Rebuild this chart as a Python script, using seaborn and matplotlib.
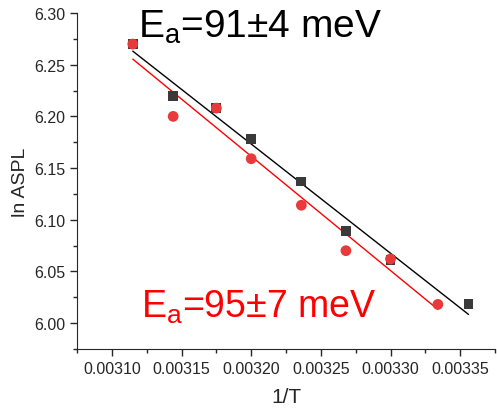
import numpy as np
import pandas as pd
import matplotlib
matplotlib.use("Agg")
import matplotlib.pyplot as plt
from matplotlib.ticker import MultipleLocator, FormatStrFormatter
import seaborn as sns

# datos
x_black = [0.003115, 0.003144, 0.003175, 0.003200, 0.003236, 0.003268, 0.003300, 0.003356]
y_black = [6.270, 6.220, 6.208, 6.178, 6.137, 6.089, 6.061, 6.018]
x_red = [0.003115, 0.003144, 0.003175, 0.003200, 0.003236, 0.003268, 0.003300, 0.003334]
y_red = [6.270, 6.200, 6.208, 6.159, 6.114, 6.070, 6.062, 6.018]

df_black = pd.DataFrame({"x": x_black, "y": y_black})
df_red = pd.DataFrame({"x": x_red, "y": y_red})

sns.set_style("ticks")
plt.rcParams["font.family"] = ["Liberation Sans", "DejaVu Sans"]

fig = plt.figure(figsize=(4.97, 4.14), dpi=100)
ax = fig.add_axes([0.155, 0.155, 0.841, 0.811])

# lineas de ajuste
sns.regplot(data=df_black, x="x", y="y", ci=None, scatter=False, truncate=True,
            line_kws={"color": "black", "lw": 1}, ax=ax)
sns.regplot(data=df_red, x="x", y="y", ci=None, scatter=False, truncate=True,
            line_kws={"color": "#ff0000", "lw": 1}, ax=ax)

# puntos
sns.scatterplot(data=df_black, x="x", y="y", marker="s", s=50, color="#3a3a3a",
                edgecolor="none", ax=ax, zorder=3)
sns.scatterplot(data=df_red, x="x", y="y", marker="o", s=60, color="#e83a3a",
                edgecolor="none", ax=ax, zorder=4)

ax.set_xlim(0.003075, 0.003375)
ax.set_ylim(5.975, 6.30)
ax.xaxis.set_major_locator(MultipleLocator(0.00005))
ax.xaxis.set_minor_locator(MultipleLocator(0.000025))
ax.yaxis.set_major_locator(MultipleLocator(0.05))
ax.yaxis.set_minor_locator(MultipleLocator(0.025))
ax.xaxis.set_major_formatter(FormatStrFormatter("%.5f"))
ax.yaxis.set_major_formatter(FormatStrFormatter("%.2f"))
ax.tick_params(which="major", direction="out", length=5, width=1, labelsize=11.5)
ax.tick_params(which="minor", direction="out", length=3, width=1)
sns.despine(ax=ax)

ax.set_xlabel("1/T", fontsize=15, labelpad=8)
ax.set_ylabel("ln ASPL", fontsize=14)

ax.text(0.003119, 6.287, "E$_\\mathregular{a}$=91±4 meV", fontsize=28, color="black",
        va="center", ha="left")
ax.text(0.003121, 6.016, "E$_\\mathregular{a}$=95±7 meV", fontsize=27, color="#ff0000",
        va="center", ha="left")

fig.savefig("out.png", dpi=100)
